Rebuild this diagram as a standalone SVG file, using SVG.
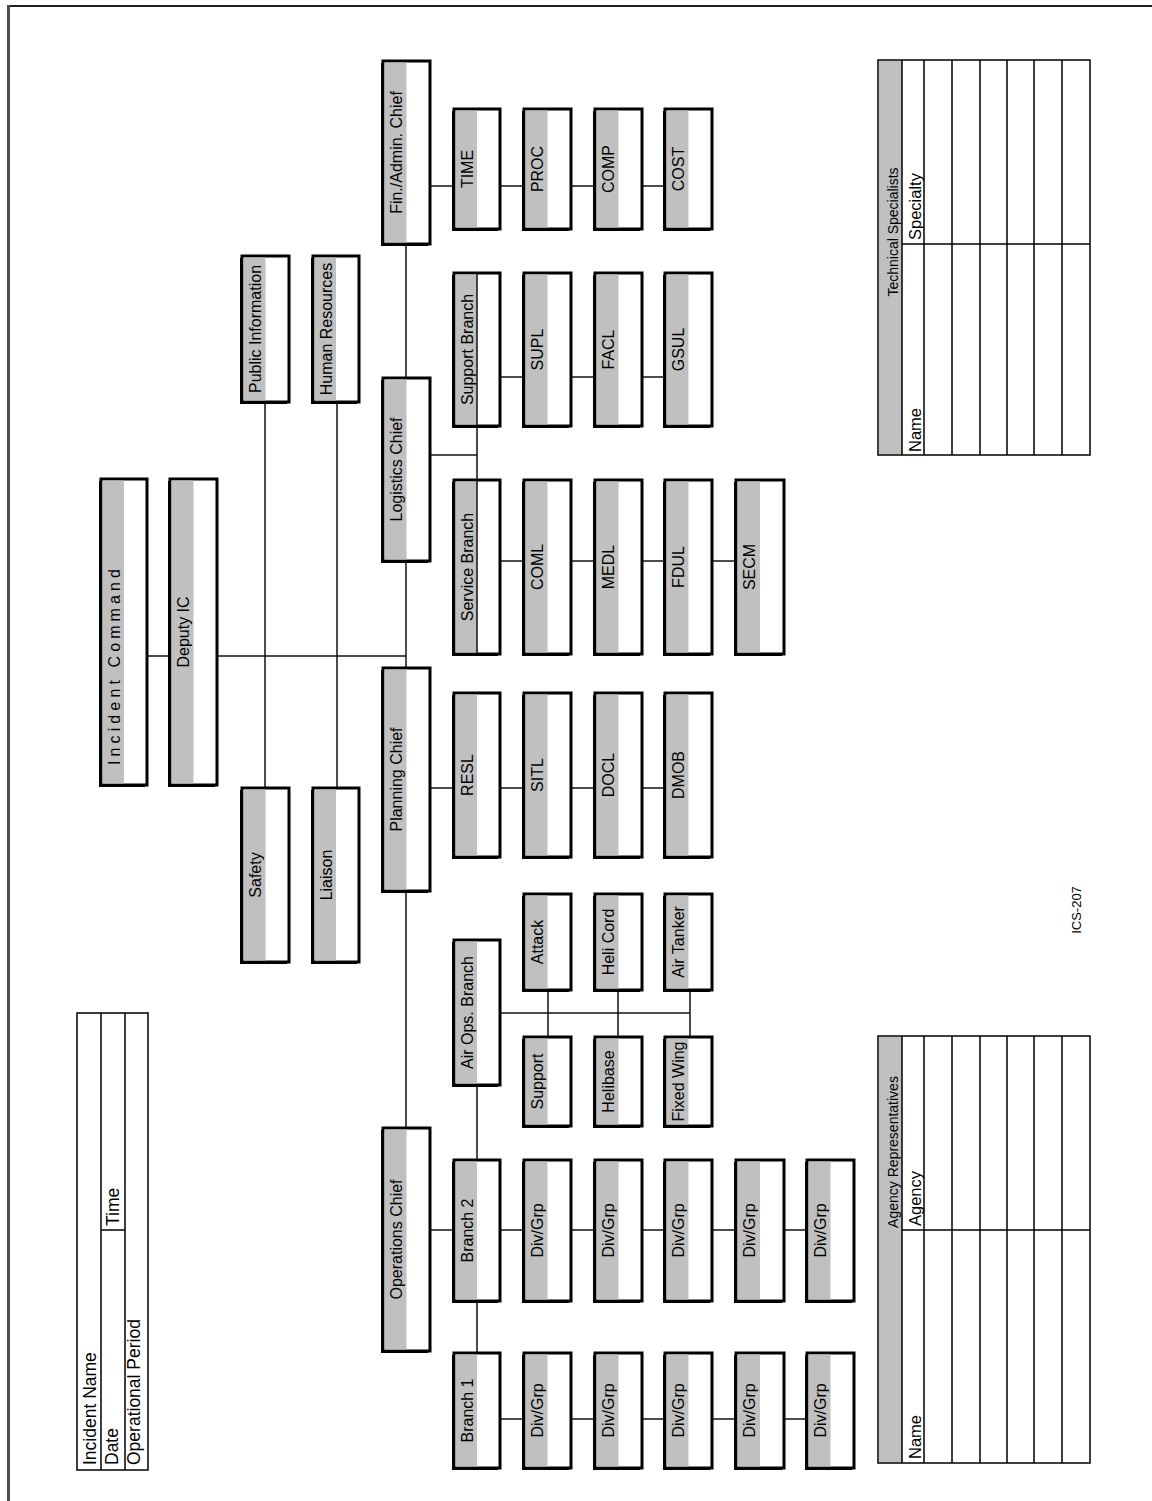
<svg xmlns="http://www.w3.org/2000/svg" width="1152" height="1501" viewBox="0 0 1152 1501">
<style>
.sh{fill:#000}
.bx{fill:#fff;stroke:#000;stroke-width:3}
.gr{fill:#c0c0c0}
.lb{font-family:"Liberation Sans",Arial,sans-serif;font-size:16px;text-anchor:middle;fill:#000}
.tl{font-family:"Liberation Sans",Arial,sans-serif;font-size:17.5px;fill:#000}
.th{font-family:"Liberation Sans",Arial,sans-serif;font-size:14px;text-anchor:middle;fill:#000}
.cn line{stroke:#111;stroke-width:1.5}
.tb{fill:#fff;stroke:#000;stroke-width:1.5}
.tln line{stroke:#000;stroke-width:1.5}
</style>
<rect width="1152" height="1501" fill="#fff"/>
<g id="page-border">
<line x1="8" y1="6" x2="1152" y2="6" stroke="#222" stroke-width="2"/>
<line x1="8.5" y1="5" x2="8.5" y2="1501" stroke="#4a5060" stroke-width="3"/>
</g>

<g id="connectors" class="cn">
<line x1="148" y1="656" x2="169" y2="656"/>
<line x1="218" y1="656" x2="406" y2="656"/>
<line x1="406" y1="245" x2="406" y2="1127"/>
<line x1="265" y1="403" x2="265" y2="787"/>
<line x1="337" y1="403" x2="337" y2="787"/>
<line x1="431" y1="186" x2="453" y2="186"/>
<line x1="501" y1="186" x2="523" y2="186"/>
<line x1="572" y1="186" x2="594" y2="186"/>
<line x1="643" y1="186" x2="664" y2="186"/>
<line x1="431" y1="455" x2="477" y2="455"/>
<line x1="501" y1="377" x2="523" y2="377"/>
<line x1="572" y1="377" x2="594" y2="377"/>
<line x1="643" y1="377" x2="664" y2="377"/>
<line x1="501" y1="561" x2="523" y2="561"/>
<line x1="572" y1="561" x2="594" y2="561"/>
<line x1="643" y1="561" x2="664" y2="561"/>
<line x1="713" y1="561" x2="735" y2="561"/>
<line x1="431" y1="788" x2="453" y2="788"/>
<line x1="501" y1="788" x2="523" y2="788"/>
<line x1="572" y1="788" x2="594" y2="788"/>
<line x1="643" y1="788" x2="664" y2="788"/>
<line x1="477" y1="1086" x2="477" y2="1159"/>
<line x1="501" y1="1013" x2="690" y2="1013"/>
<line x1="548" y1="991" x2="548" y2="1036"/>
<line x1="618" y1="991" x2="618" y2="1036"/>
<line x1="690" y1="991" x2="690" y2="1036"/>
<line x1="431" y1="1230" x2="453" y2="1230"/>
<line x1="501" y1="1230" x2="523" y2="1230"/>
<line x1="572" y1="1230" x2="594" y2="1230"/>
<line x1="643" y1="1230" x2="664" y2="1230"/>
<line x1="713" y1="1230" x2="735" y2="1230"/>
<line x1="785" y1="1230" x2="806" y2="1230"/>
<line x1="477" y1="1302" x2="477" y2="1352"/>
<line x1="501" y1="1419" x2="523" y2="1419"/>
<line x1="572" y1="1419" x2="594" y2="1419"/>
<line x1="643" y1="1419" x2="664" y2="1419"/>
<line x1="713" y1="1419" x2="735" y2="1419"/>
<line x1="785" y1="1419" x2="806" y2="1419"/>
</g>

<g id="n-ic"><rect class="sh" x="99" y="481" width="46" height="306"/><rect class="bx" x="101" y="479" width="46" height="306"/><rect class="gr" x="102.5" y="480.5" width="21.5" height="303"/><text class="lb" transform="translate(120,667) rotate(-90)" textLength="196" lengthAdjust="spacing">Incident Command</text></g>
<g id="n-deputy"><rect class="sh" x="168" y="481" width="47" height="306"/><rect class="bx" x="170" y="479" width="47" height="306"/><rect class="gr" x="171.5" y="480.5" width="22" height="303"/><text class="lb" transform="translate(189,632) rotate(-90)">Deputy IC</text></g>
<g id="n-pubinfo"><rect class="sh" x="240" y="258" width="47" height="146"/><rect class="bx" x="242" y="256" width="47" height="146"/><rect class="gr" x="243.5" y="257.5" width="22" height="143"/><text class="lb" transform="translate(261,329) rotate(-90)">Public Information</text></g>
<g id="n-hr"><rect class="sh" x="311" y="258" width="46" height="146"/><rect class="bx" x="313" y="256" width="46" height="146"/><rect class="gr" x="314.5" y="257.5" width="21.5" height="143"/><text class="lb" transform="translate(332,329) rotate(-90)">Human Resources</text></g>
<g id="n-safety"><rect class="sh" x="240" y="790" width="47" height="174"/><rect class="bx" x="242" y="788" width="47" height="174"/><rect class="gr" x="243.5" y="789.5" width="22" height="171"/><text class="lb" transform="translate(261,875) rotate(-90)">Safety</text></g>
<g id="n-liaison"><rect class="sh" x="311" y="790" width="46" height="174"/><rect class="bx" x="313" y="788" width="46" height="174"/><rect class="gr" x="314.5" y="789.5" width="21.5" height="171"/><text class="lb" transform="translate(332,875) rotate(-90)">Liaison</text></g>
<g id="n-fin"><rect class="sh" x="381" y="63" width="47" height="183"/><rect class="bx" x="383" y="61" width="47" height="183"/><rect class="gr" x="384.5" y="62.5" width="22" height="180"/><text class="lb" transform="translate(402,152.5) rotate(-90)">Fin./Admin. Chief</text></g>
<g id="n-logistics"><rect class="sh" x="381" y="380" width="47" height="183"/><rect class="bx" x="383" y="378" width="47" height="183"/><rect class="gr" x="384.5" y="379.5" width="22" height="180"/><text class="lb" transform="translate(402,469.5) rotate(-90)">Logistics Chief</text></g>
<g id="n-planning"><rect class="sh" x="381" y="670" width="47" height="223"/><rect class="bx" x="383" y="668" width="47" height="223"/><rect class="gr" x="384.5" y="669.5" width="22" height="220"/><text class="lb" transform="translate(402,779.5) rotate(-90)">Planning Chief</text></g>
<g id="n-ops"><rect class="sh" x="381" y="1130" width="47" height="223"/><rect class="bx" x="383" y="1128" width="47" height="223"/><rect class="gr" x="384.5" y="1129.5" width="22" height="220"/><text class="lb" transform="translate(402,1239.5) rotate(-90)">Operations Chief</text></g>

<g id="n-time"><rect class="sh" x="452" y="111" width="46" height="120"/><rect class="bx" x="454" y="109" width="46" height="120"/><rect class="gr" x="455.5" y="110.5" width="21.5" height="117"/><text class="lb" transform="translate(473,169) rotate(-90)">TIME</text></g>
<g id="n-proc"><rect class="sh" x="522" y="111" width="47" height="120"/><rect class="bx" x="524" y="109" width="47" height="120"/><rect class="gr" x="525.5" y="110.5" width="22" height="117"/><text class="lb" transform="translate(543,169) rotate(-90)">PROC</text></g>
<g id="n-comp"><rect class="sh" x="593" y="111" width="47" height="120"/><rect class="bx" x="595" y="109" width="47" height="120"/><rect class="gr" x="596.5" y="110.5" width="22" height="117"/><text class="lb" transform="translate(614,169) rotate(-90)">COMP</text></g>
<g id="n-cost"><rect class="sh" x="663" y="111" width="47" height="120"/><rect class="bx" x="665" y="109" width="47" height="120"/><rect class="gr" x="666.5" y="110.5" width="22" height="117"/><text class="lb" transform="translate(684,169) rotate(-90)">COST</text></g>

<g id="n-supportbranch"><rect class="sh" x="452" y="275" width="46" height="153"/><rect class="bx" x="454" y="273" width="46" height="153"/><rect class="gr" x="455.5" y="274.5" width="21.5" height="150"/><text class="lb" transform="translate(473,349.5) rotate(-90)">Support Branch</text></g>
<g id="n-supl"><rect class="sh" x="522" y="275" width="47" height="153"/><rect class="bx" x="524" y="273" width="47" height="153"/><rect class="gr" x="525.5" y="274.5" width="22" height="150"/><text class="lb" transform="translate(543,349.5) rotate(-90)">SUPL</text></g>
<g id="n-facl"><rect class="sh" x="593" y="275" width="47" height="153"/><rect class="bx" x="595" y="273" width="47" height="153"/><rect class="gr" x="596.5" y="274.5" width="22" height="150"/><text class="lb" transform="translate(614,349.5) rotate(-90)">FACL</text></g>
<g id="n-gsul"><rect class="sh" x="663" y="275" width="47" height="153"/><rect class="bx" x="665" y="273" width="47" height="153"/><rect class="gr" x="666.5" y="274.5" width="22" height="150"/><text class="lb" transform="translate(684,349.5) rotate(-90)">GSUL</text></g>

<g id="n-servicebranch"><rect class="sh" x="452" y="482" width="46" height="174"/><rect class="bx" x="454" y="480" width="46" height="174"/><rect class="gr" x="455.5" y="481.5" width="21.5" height="171"/><text class="lb" transform="translate(473,567) rotate(-90)">Service Branch</text></g>
<g id="n-coml"><rect class="sh" x="522" y="482" width="47" height="174"/><rect class="bx" x="524" y="480" width="47" height="174"/><rect class="gr" x="525.5" y="481.5" width="22" height="171"/><text class="lb" transform="translate(543,567) rotate(-90)">COML</text></g>
<g id="n-medl"><rect class="sh" x="593" y="482" width="47" height="174"/><rect class="bx" x="595" y="480" width="47" height="174"/><rect class="gr" x="596.5" y="481.5" width="22" height="171"/><text class="lb" transform="translate(614,567) rotate(-90)">MEDL</text></g>
<g id="n-fdul"><rect class="sh" x="663" y="482" width="47" height="174"/><rect class="bx" x="665" y="480" width="47" height="174"/><rect class="gr" x="666.5" y="481.5" width="22" height="171"/><text class="lb" transform="translate(684,567) rotate(-90)">FDUL</text></g>
<g id="n-secm"><rect class="sh" x="734" y="482" width="48" height="174"/><rect class="bx" x="736" y="480" width="48" height="174"/><rect class="gr" x="737.5" y="481.5" width="22.5" height="171"/><text class="lb" transform="translate(755,567) rotate(-90)">SECM</text></g>

<g id="n-resl"><rect class="sh" x="452" y="695" width="46" height="164"/><rect class="bx" x="454" y="693" width="46" height="164"/><rect class="gr" x="455.5" y="694.5" width="21.5" height="161"/><text class="lb" transform="translate(473,775) rotate(-90)">RESL</text></g>
<g id="n-sitl"><rect class="sh" x="522" y="695" width="47" height="164"/><rect class="bx" x="524" y="693" width="47" height="164"/><rect class="gr" x="525.5" y="694.5" width="22" height="161"/><text class="lb" transform="translate(543,775) rotate(-90)">SITL</text></g>
<g id="n-docl"><rect class="sh" x="593" y="695" width="47" height="164"/><rect class="bx" x="595" y="693" width="47" height="164"/><rect class="gr" x="596.5" y="694.5" width="22" height="161"/><text class="lb" transform="translate(614,775) rotate(-90)">DOCL</text></g>
<g id="n-dmob"><rect class="sh" x="663" y="695" width="47" height="164"/><rect class="bx" x="665" y="693" width="47" height="164"/><rect class="gr" x="666.5" y="694.5" width="22" height="161"/><text class="lb" transform="translate(684,775) rotate(-90)">DMOB</text></g>

<g id="n-airops"><rect class="sh" x="452" y="942" width="46" height="145"/><rect class="bx" x="454" y="940" width="46" height="145"/><rect class="gr" x="455.5" y="941.5" width="21.5" height="142"/><text class="lb" transform="translate(473,1012.5) rotate(-90)">Air Ops. Branch</text></g>
<g id="n-attack"><rect class="sh" x="522" y="896" width="47" height="96"/><rect class="bx" x="524" y="894" width="47" height="96"/><rect class="gr" x="525.5" y="895.5" width="22" height="93"/><text class="lb" transform="translate(543,942) rotate(-90)">Attack</text></g>
<g id="n-helicord"><rect class="sh" x="593" y="896" width="47" height="96"/><rect class="bx" x="595" y="894" width="47" height="96"/><rect class="gr" x="596.5" y="895.5" width="22" height="93"/><text class="lb" transform="translate(614,942) rotate(-90)">Heli Cord</text></g>
<g id="n-airtanker"><rect class="sh" x="663" y="896" width="47" height="96"/><rect class="bx" x="665" y="894" width="47" height="96"/><rect class="gr" x="666.5" y="895.5" width="22" height="93"/><text class="lb" transform="translate(684,942) rotate(-90)">Air Tanker</text></g>
<g id="n-support"><rect class="sh" x="522" y="1039" width="47" height="89"/><rect class="bx" x="524" y="1037" width="47" height="89"/><rect class="gr" x="525.5" y="1038.5" width="22" height="86"/><text class="lb" transform="translate(543,1081.5) rotate(-90)">Support</text></g>
<g id="n-helibase"><rect class="sh" x="593" y="1039" width="47" height="89"/><rect class="bx" x="595" y="1037" width="47" height="89"/><rect class="gr" x="596.5" y="1038.5" width="22" height="86"/><text class="lb" transform="translate(614,1081.5) rotate(-90)">Helibase</text></g>
<g id="n-fixedwing"><rect class="sh" x="663" y="1039" width="47" height="89"/><rect class="bx" x="665" y="1037" width="47" height="89"/><rect class="gr" x="666.5" y="1038.5" width="22" height="86"/><text class="lb" transform="translate(684,1081.5) rotate(-90)">Fixed Wing</text></g>

<g id="n-branch2"><rect class="sh" x="452" y="1162" width="46" height="141"/><rect class="bx" x="454" y="1160" width="46" height="141"/><rect class="gr" x="455.5" y="1161.5" width="21.5" height="138"/><text class="lb" transform="translate(473,1230.5) rotate(-90)">Branch 2</text></g>
<g id="n-b2d1"><rect class="sh" x="522" y="1162" width="47" height="141"/><rect class="bx" x="524" y="1160" width="47" height="141"/><rect class="gr" x="525.5" y="1161.5" width="22" height="138"/><text class="lb" transform="translate(543,1230.5) rotate(-90)">Div/Grp</text></g>
<g id="n-b2d2"><rect class="sh" x="593" y="1162" width="47" height="141"/><rect class="bx" x="595" y="1160" width="47" height="141"/><rect class="gr" x="596.5" y="1161.5" width="22" height="138"/><text class="lb" transform="translate(614,1230.5) rotate(-90)">Div/Grp</text></g>
<g id="n-b2d3"><rect class="sh" x="663" y="1162" width="47" height="141"/><rect class="bx" x="665" y="1160" width="47" height="141"/><rect class="gr" x="666.5" y="1161.5" width="22" height="138"/><text class="lb" transform="translate(684,1230.5) rotate(-90)">Div/Grp</text></g>
<g id="n-b2d4"><rect class="sh" x="734" y="1162" width="48" height="141"/><rect class="bx" x="736" y="1160" width="48" height="141"/><rect class="gr" x="737.5" y="1161.5" width="22.5" height="138"/><text class="lb" transform="translate(755,1230.5) rotate(-90)">Div/Grp</text></g>
<g id="n-b2d5"><rect class="sh" x="805" y="1162" width="47" height="141"/><rect class="bx" x="807" y="1160" width="47" height="141"/><rect class="gr" x="808.5" y="1161.5" width="22" height="138"/><text class="lb" transform="translate(826,1230.5) rotate(-90)">Div/Grp</text></g>

<g id="n-branch1"><rect class="sh" x="452" y="1355" width="46" height="115"/><rect class="bx" x="454" y="1353" width="46" height="115"/><rect class="gr" x="455.5" y="1354.5" width="21.5" height="112"/><text class="lb" transform="translate(473,1410.5) rotate(-90)">Branch 1</text></g>
<g id="n-b1d1"><rect class="sh" x="522" y="1355" width="47" height="115"/><rect class="bx" x="524" y="1353" width="47" height="115"/><rect class="gr" x="525.5" y="1354.5" width="22" height="112"/><text class="lb" transform="translate(543,1410.5) rotate(-90)">Div/Grp</text></g>
<g id="n-b1d2"><rect class="sh" x="593" y="1355" width="47" height="115"/><rect class="bx" x="595" y="1353" width="47" height="115"/><rect class="gr" x="596.5" y="1354.5" width="22" height="112"/><text class="lb" transform="translate(614,1410.5) rotate(-90)">Div/Grp</text></g>
<g id="n-b1d3"><rect class="sh" x="663" y="1355" width="47" height="115"/><rect class="bx" x="665" y="1353" width="47" height="115"/><rect class="gr" x="666.5" y="1354.5" width="22" height="112"/><text class="lb" transform="translate(684,1410.5) rotate(-90)">Div/Grp</text></g>
<g id="n-b1d4"><rect class="sh" x="734" y="1355" width="48" height="115"/><rect class="bx" x="736" y="1353" width="48" height="115"/><rect class="gr" x="737.5" y="1354.5" width="22.5" height="112"/><text class="lb" transform="translate(755,1410.5) rotate(-90)">Div/Grp</text></g>
<g id="n-b1d5"><rect class="sh" x="805" y="1355" width="47" height="115"/><rect class="bx" x="807" y="1353" width="47" height="115"/><rect class="gr" x="808.5" y="1354.5" width="22" height="112"/><text class="lb" transform="translate(826,1410.5) rotate(-90)">Div/Grp</text></g>

<g id="branch-bar" class="cn"><line x1="477" y1="272" x2="477" y2="655"/></g>

<g id="incident-table">
<rect class="tb" x="77" y="1013" width="71" height="457"/>
<g class="tln"><line x1="101" y1="1013" x2="101" y2="1470"/><line x1="125" y1="1013" x2="125" y2="1470"/><line x1="101" y1="1230" x2="125" y2="1230"/></g>
<text class="tl" transform="translate(96,1465) rotate(-90)">Incident Name</text>
<text class="tl" transform="translate(118,1465) rotate(-90)">Date</text>
<text class="tl" transform="translate(119,1226) rotate(-90)">Time</text>
<text class="tl" transform="translate(140,1465) rotate(-90)">Operational Period</text>
</g>

<g id="tech-table">
<rect class="tb" x="878" y="60" width="212" height="395"/>
<rect class="gr" x="879" y="61" width="23" height="393"/>
<g class="tln"><line x1="902" y1="60" x2="902" y2="455"/><line x1="924" y1="60" x2="924" y2="455"/><line x1="952" y1="60" x2="952" y2="455"/><line x1="980" y1="60" x2="980" y2="455"/><line x1="1007" y1="60" x2="1007" y2="455"/><line x1="1034" y1="60" x2="1034" y2="455"/><line x1="1062" y1="60" x2="1062" y2="455"/><line x1="902" y1="244" x2="1090" y2="244"/></g>
<text class="th" transform="translate(898,232) rotate(-90)">Technical Specialists</text>
<text class="tl" style="font-size:16.5px" transform="translate(921,452) rotate(-90)">Name</text>
<text class="tl" style="font-size:16.5px" transform="translate(921,240) rotate(-90)">Specialty</text>
</g>

<g id="agency-table">
<rect class="tb" x="878" y="1036" width="212" height="427"/>
<rect class="gr" x="879" y="1037" width="23" height="425"/>
<g class="tln"><line x1="902" y1="1036" x2="902" y2="1463"/><line x1="924" y1="1036" x2="924" y2="1463"/><line x1="952" y1="1036" x2="952" y2="1463"/><line x1="980" y1="1036" x2="980" y2="1463"/><line x1="1007" y1="1036" x2="1007" y2="1463"/><line x1="1034" y1="1036" x2="1034" y2="1463"/><line x1="1062" y1="1036" x2="1062" y2="1463"/><line x1="902" y1="1230" x2="1090" y2="1230"/></g>
<text class="th" transform="translate(898,1152) rotate(-90)">Agency Representatives</text>
<text class="tl" style="font-size:16.5px" transform="translate(921,1459) rotate(-90)">Name</text>
<text class="tl" style="font-size:16.5px" transform="translate(921,1226) rotate(-90)">Agency</text>
</g>

<text id="form-id" class="th" style="font-size:13px" transform="translate(1081,910) rotate(-90)">ICS-207</text>
</svg>
